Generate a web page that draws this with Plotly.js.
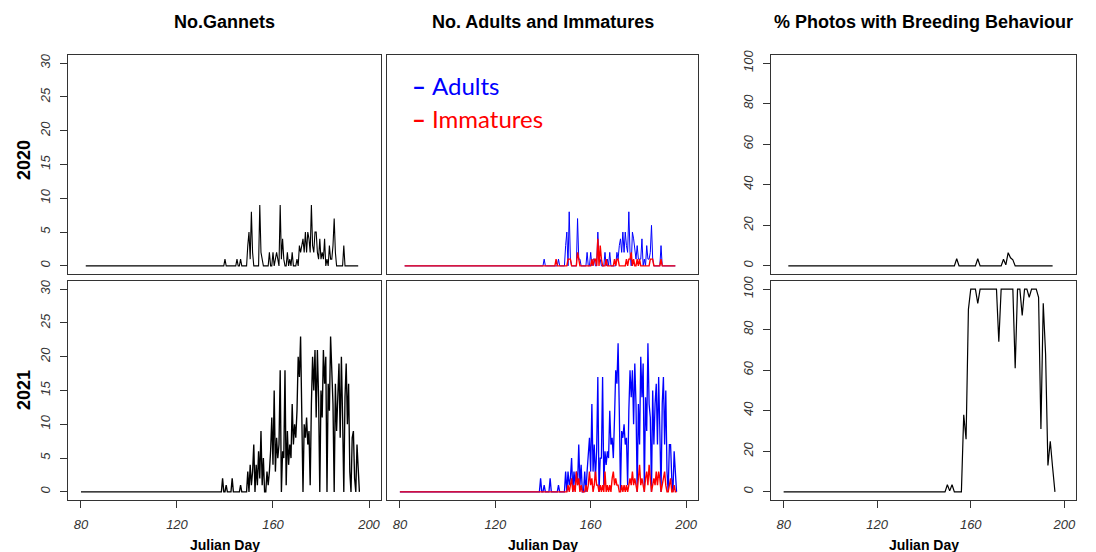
<!DOCTYPE html>
<html><head><meta charset="utf-8">
<script src="https://cdn.plot.ly/plotly-3.0.1.min.js"></script>
<style>html,body{margin:0;padding:0;background:#fff}#chart{width:1096px;height:552px}</style>
</head><body><div id="chart"></div>
<script>
// ---------- DATA ----------
function seq(a, b, s) { const o = []; for (let v = a; v <= b + 1e-9; v += s) o.push(Math.round(v * 100) / 100); return o; }

// 2020: baseline from day 82, half-day samples from 138 to 195.5
const days2020 = [82].concat(seq(138, 195.5, 0.5));
const total2020 = [0,
  0,0,0,0,1,0,0,0,0,0,
  0,0,0,0,1,0,0,1,0,0,
  0,0,0,3,5,1,8,2,0,0,
  0,0,0,9,2,1,0,0,0,0,
  0,2,0,0,2,0,1,2,1,0,
  9,1,4,1,0,0,2,0,1,0,
  2,0,0,0,1,0,3,2,3,4,
  2,5,2,5,4,2,9,3,2,5,
  5,2,1,4,1,2,1,4,0,1,
  0,3,1,1,3,7,2,0,0,0,
  0,0,0,3,0,0,0,0,0,0,
  0,0,0,0,0,0];
const adults2020 = [0,
  0,0,0,0,0,1,0,0,0,0,
  0,0,0,0,0,0,0,1,0,0,
  0,0,0,3,5,0,8,1,0,0,
  0,0,0,7,1,1,0,0,0,0,
  0,2,0,0,2,0,1,1,0,0,
  5,1,1,0,0,0,2,0,1,0,
  2,0,0,0,0,0,2,1,3,4,
  2,5,2,5,3,2,8,2,0,5,
  4,2,1,3,1,1,1,4,0,1,
  0,3,1,1,2,6,1,0,0,0,
  0,0,0,3,0,0,0,0,0,0,
  0,0,0,0,0,0];
const immatures2020 = [0,
  0,0,0,0,0,0,0,0,0,0,
  0,0,0,0,0,1,0,0,0,0,
  0,0,0,0,0,1,1,1,0,0,
  0,0,0,2,1,0,0,0,0,0,
  0,0,0,0,0,1,0,1,1,0,
  4,0,3,1,0,0,0,1,0,0,
  0,0,0,0,1,0,1,1,0,0,
  0,0,0,0,1,0,1,1,2,0,
  1,0,0,1,0,1,0,0,0,0,
  0,0,0,0,1,1,1,0,0,0,
  0,0,0,1,0,0,0,0,0,0,
  0,0,0,0,0,0];

// 2021: baseline from day 80, half-day samples from 138 to 196
const days2021 = [80].concat(seq(138, 196, 0.5));
const total2021 = [0,
  0,0,2,0,0,1,0,0,0,0,
  2,0,0,0,0,0,0,1,0,0,
  0,0,0,3,0,4,1,3,7,0,
  4,1,6,2,9,1,5,0,0,3,
  1,3,6,11,4,15,3,8,5,7,
  18,0,6,5,18,1,9,4,7,5,
  13,7,10,8,12,20,17,23,12,0,
  10,8,11,7,9,1,13,20,15,21,
  11,21,14,0,15,11,21,16,20,0,
  16,12,23,17,13,0,16,9,14,19,
  8,20,11,0,14,19,10,16,3,0,
  8,9,2,0,7,3,0];
const adults2021 = [0,
  0,0,2,0,0,1,0,0,0,0,
  2,0,0,0,0,0,0,1,0,0,
  0,0,0,3,0,3,1,2,5,0,
  3,1,3,1,7,1,4,0,0,3,
  0,3,5,8,3,13,3,7,2,6,
  17,0,5,5,17,1,6,4,6,5,
  12,7,8,5,11,18,16,22,12,0,
  9,8,10,7,8,1,12,18,14,18,
  10,19,13,0,13,7,20,14,19,0,
  14,9,22,13,11,0,15,7,13,16,
  7,17,9,0,13,17,7,15,3,0,
  7,7,2,0,6,3,0];
const immatures2021 = [0,
  0,0,0,0,0,0,0,0,0,0,
  0,0,0,0,0,0,0,0,0,0,
  0,0,0,0,0,1,0,1,2,0,
  1,0,3,1,2,0,1,0,0,0,
  1,0,1,3,1,2,0,1,3,1,
  1,0,1,0,1,0,3,0,1,0,
  1,0,2,3,1,2,1,1,0,0,
  1,0,1,0,1,0,1,2,1,3,
  1,2,1,0,2,4,1,2,1,0,
  2,3,1,4,2,0,1,2,1,3,
  1,3,2,0,1,2,3,1,0,0,
  1,2,0,0,1,0,0];

// % photos with breeding behaviour (daily)
const pctDays2020 = [82,153,154,155,162,163,164,173,174,175,176,177,178,179,195];
const pct2020     = [0,0,3.5,0,0,3.5,0,0,3.3,0.5,6.5,4,3,0,0];
const pctDays2021 = [80,149,150,151,152,153,156,157,158,159,160,161,162,163,164,171,172,173,178,179,180,181,182,183,184,185,186,187,188,189,190,191,192,193,194,195,196];
const pct2021     = [0,0,3.5,0.5,3.5,0,0,38,26,90,100,100,100,93,100,100,74,100,100,61,100,100,87,100,100,96,100,100,100,96,31,93,68,13,25,12,0];

const colTitles = ["No.Gannets", "No. Adults and Immatures", "% Photos with Breeding Behaviour"];
const rowLabels = ["2020", "2021"];
const xTicks = [80, 120, 160, 200];
const countTicks = [0, 5, 10, 15, 20, 25, 30];
const pctTicks = [0, 20, 40, 60, 80, 100];
const legendLabels = ["Adults", "Immatures"];
const xLabel = "Julian Day";

// ---------- LAYOUT ----------
const W = 1096, H = 552;
const px = v => v / W, py = v => 1 - v / H;
const colX = [[68, 381], [387, 698], [771, 1076]];
const rowY = [[55, 274], [281, 500]];
const BLUE = '#0000ff', RED = '#ff0000', BLACK = '#000000';

function line(x, y, color, xa, ya, w) {
  return { x: x, y: y, type: 'scatter', mode: 'lines', line: { color: color, width: w || 1.1 },
           xaxis: xa, yaxis: ya, hoverinfo: 'skip', showlegend: false };
}

const traces = [
  line(days2020, total2020, BLACK, 'x', 'y'),
  line(days2020, adults2020, BLUE, 'x2', 'y2', 1.0),
  line(days2020, immatures2020, RED, 'x2', 'y2', 1.4),
  line(pctDays2020, pct2020, BLACK, 'x3', 'y3', 1.2),
  line(days2021, total2021, BLACK, 'x4', 'y4', 1.35),
  line(days2021, adults2021, BLUE, 'x5', 'y5', 1.3),
  line(days2021, immatures2021, RED, 'x5', 'y5', 1.4),
  line(pctDays2021, pct2021, BLACK, 'x6', 'y6', 1.2)
];

const tickFont = { family: 'Liberation Sans, Arial, sans-serif', size: 13, color: '#333', style: 'italic' };
const layout = { width: W, height: H, margin: { l: 0, r: 0, t: 0, b: 0 },
  paper_bgcolor: '#fff', plot_bgcolor: '#fff', showlegend: false, annotations: [] };

for (let r = 0; r < 2; r++) {
  for (let c = 0; c < 3; c++) {
    const i = r * 3 + c + 1;
    const xk = i === 1 ? 'xaxis' : 'xaxis' + i;
    const yk = i === 1 ? 'yaxis' : 'yaxis' + i;
    const bottom = r === 1;
    layout[xk] = {
      domain: [px(colX[c][0]), px(colX[c][1])],
      anchor: i === 1 ? 'y' : 'y' + i,
      range: [74.6, 205], tickvals: xTicks, ticktext: xTicks.map(String),
      showline: true, mirror: true, linecolor: '#333', linewidth: 1.3,
      showgrid: false, zeroline: false,
      ticks: bottom ? 'outside' : '', ticklen: 7, tickcolor: '#333',
      showticklabels: bottom, tickfont: tickFont, ticklabelstandoff: 5
    };
    const isPct = c === 2;
    layout[yk] = {
      domain: [py(rowY[r][1]), py(rowY[r][0])],
      anchor: i === 1 ? 'x' : 'x' + i,
      range: isPct ? [-4, 104] : [-1.2, 31.2],
      tickvals: isPct ? pctTicks : countTicks,
      showline: true, mirror: true, linecolor: '#333', linewidth: 1.3,
      showgrid: false, zeroline: false,
      ticks: c === 1 ? '' : 'outside', ticklen: 7, tickcolor: '#333',
      showticklabels: c !== 1, tickangle: -90, tickfont: tickFont, ticklabelstandoff: 5
    };
  }
}

const A = layout.annotations;
const boldFont = (s) => ({ family: 'Liberation Sans, Arial, sans-serif', size: s, color: '#000', weight: 'bold' });
colTitles.forEach((t, c) => {
  A.push({ text: '<b>' + t + '</b>', x: px((colX[c][0] + colX[c][1]) / 2), y: py(22), xref: 'paper', yref: 'paper',
           xanchor: 'center', yanchor: 'middle', showarrow: false, font: boldFont(18) });
  A.push({ text: '<b>' + xLabel + '</b>', x: px((colX[c][0] + colX[c][1]) / 2), y: py(545), xref: 'paper', yref: 'paper',
           xanchor: 'center', yanchor: 'middle', showarrow: false, font: boldFont(14) });
});
const rowCenters = [160, 390];
rowLabels.forEach((t, r) => {
  A.push({ text: '<b>' + t + '</b>', x: px(24), y: py(rowCenters[r]), xref: 'paper', yref: 'paper',
           xanchor: 'center', yanchor: 'middle', textangle: -90, showarrow: false, font: boldFont(18) });
});
const legColors = [BLUE, RED];
const legY = [85, 118];
legendLabels.forEach((t, k) => {
  A.push({ text: '<b>–</b>', x: px(410), y: py(legY[k]), xref: 'paper', yref: 'paper', xanchor: 'left', yanchor: 'middle',
           showarrow: false, font: { family: 'Lato, sans-serif', size: 24, color: legColors[k] } });
  A.push({ text: t, x: px(430), y: py(legY[k]), xref: 'paper', yref: 'paper', xanchor: 'left', yanchor: 'middle',
           showarrow: false, font: { family: 'Lato, sans-serif', size: 24, color: legColors[k] } });
});

Plotly.newPlot('chart', traces, layout, { staticPlot: true, displayModeBar: false });
</script>
</body></html>
